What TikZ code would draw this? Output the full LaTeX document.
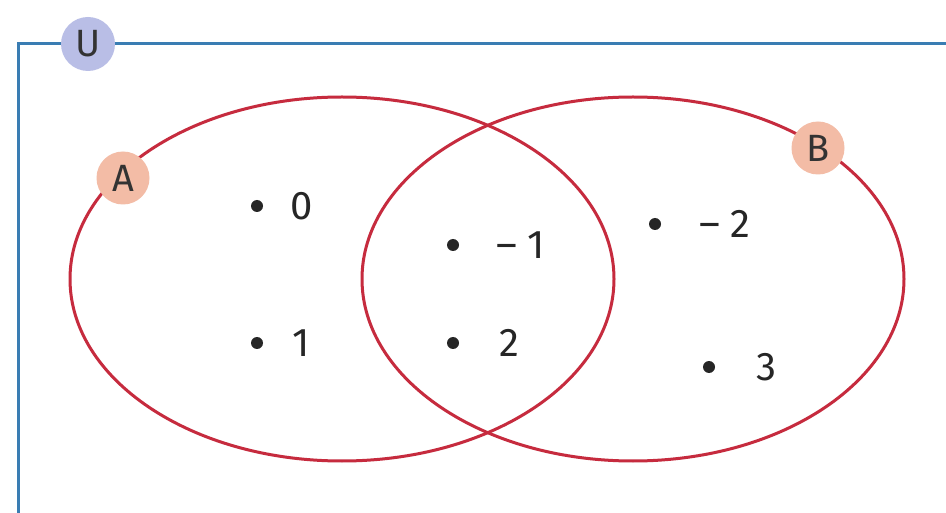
\documentclass[tikz,border=0pt]{standalone}
\usepackage{fontspec}
\setmainfont{Fira Sans}
\begin{document}
\begin{tikzpicture}[x=1pt,y=-1pt,
  frameline/.style={draw=framecol,line width=3pt},
  setline/.style={draw=setcol,line width=3pt},
  ulabel/.style={circle,fill=ucol,minimum size=54pt,inner sep=0pt,font=\fontsize{38}{40}\selectfont,text=black!80},
  slabel/.style={circle,fill=abcol,minimum size=53pt,inner sep=0pt,font=\fontsize{38}{40}\selectfont,text=black!80},
  dotn/.style={circle,fill=black!85,minimum size=12pt,inner sep=0pt},
  num/.style={inner sep=0pt,font=\fontsize{40}{42}\selectfont,text=black!85}]
\definecolor{framecol}{HTML}{3A7DB3}
\definecolor{setcol}{HTML}{C62B3E}
\definecolor{ucol}{HTML}{B9BEE6}
\definecolor{abcol}{HTML}{F3BCA6}
\useasboundingbox (0,0) rectangle (946,513);
\fill[white] (0,0) rectangle (946,513);
% frame
\coordinate (fb) at (18,515);
\coordinate (fc) at (18,44);
\coordinate (fr) at (948,44);
\draw[frameline] (fb) -- (fc) -- (fr);
% sets
\draw[setline] (342,279) ellipse [x radius=272, y radius=182];
\draw[setline] (633,279) ellipse [x radius=271, y radius=182];
% labels
\node[ulabel] (U) at (88,44) {U};
\node[slabel] (A) at (123,178) {A};
\node[slabel] (B) at (818,148) {B};
% elements
\node[dotn] (d0) at (257,206) {};
\node[num] (n0) at (302,206) {0};
\node[dotn] (d1) at (257,343) {};
\node[num] (n1) at (301,343) {1};
\node[dotn] (dm1) at (453,245) {};
\node[num] (nm1) at (521,245) {–\hspace{10pt}1};
\node[dotn] (d2) at (453,343) {};
\node[num] (n2) at (509,343) {2};
\node[dotn] (dm2) at (655,224) {};
\node[num] (nm2) at (725,224) {–\hspace{10pt}2};
\node[dotn] (d3) at (709,367) {};
\node[num] (n3) at (766,367) {3};
\end{tikzpicture}
\end{document}
